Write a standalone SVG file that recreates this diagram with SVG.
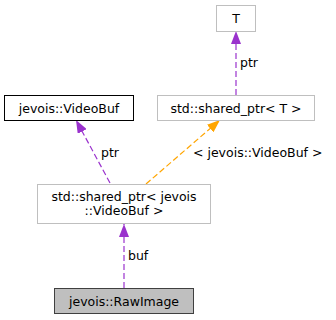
<svg xmlns="http://www.w3.org/2000/svg" width="336" height="320" viewBox="0 0 336 320">
  <style>
    text { font-family: "DejaVu Sans", sans-serif; font-size: 12.5px; fill: #000; }
    .box { fill: #fff; stroke: #bfbfbf; stroke-width: 1; }
    .edge { fill: none; stroke-width: 1.2; stroke-dasharray: 6,3; }
    .purple { stroke: #9a32cd; }
    .orange { stroke: #ffa500; }
  </style>
  <defs>
    <marker id="headPurple" viewBox="0 0 13 10" refX="13" refY="5" markerWidth="13" markerHeight="10" markerUnits="userSpaceOnUse" orient="auto">
      <path d="M0,0 L13,5 L0,10 Z" fill="#9a32cd"/>
    </marker>
    <marker id="headOrange" viewBox="0 0 13 10" refX="13" refY="5" markerWidth="13" markerHeight="10" markerUnits="userSpaceOnUse" orient="auto">
      <path d="M0,0 L13,5 L0,10 Z" fill="#ffa500"/>
    </marker>
  </defs>

  <g id="edges">
    <g id="edge-ptr-T">
      <path class="edge purple" d="M236,95 L236,31" marker-end="url(#headPurple)"/>
      <text x="240" y="67">ptr</text>
    </g>
    <g id="edge-ptr-VideoBuf">
      <path class="edge purple" d="M110,183 L76,120" marker-end="url(#headPurple)"/>
      <text x="101" y="157">ptr</text>
    </g>
    <g id="edge-template">
      <path class="edge orange" d="M146,184 L220,120" marker-end="url(#headOrange)"/>
      <text x="193" y="157">&lt; jevois::VideoBuf &gt;</text>
    </g>
    <g id="edge-buf">
      <path class="edge purple" d="M124,288 L124,224" marker-end="url(#headPurple)"/>
      <text x="128" y="260">buf</text>
    </g>
  </g>

  <g id="node-T">
    <rect class="box" x="216.5" y="5.5" width="39" height="26"/>
    <text x="236" y="23" text-anchor="middle">T</text>
  </g>
  <g id="node-VideoBuf">
    <rect x="4.5" y="95.5" width="129" height="25" fill="#fff" stroke="#000"/>
    <text x="69" y="112.5" text-anchor="middle">jevois::VideoBuf</text>
  </g>
  <g id="node-shared-ptr-T">
    <rect class="box" x="157.5" y="95.5" width="157" height="25"/>
    <text x="236" y="112.5" text-anchor="middle">std::shared_ptr&lt; T &gt;</text>
  </g>
  <g id="node-shared-ptr-VideoBuf">
    <rect class="box" x="37.5" y="184.5" width="173" height="39"/>
    <text x="124" y="201" text-anchor="middle">std::shared_ptr&lt; jevois</text>
    <text x="124" y="215" text-anchor="middle">::VideoBuf &gt;</text>
  </g>
  <g id="node-RawImage">
    <rect x="54.5" y="288.5" width="139" height="25" fill="#bfbfbf" stroke="#404040"/>
    <text x="124" y="305.5" text-anchor="middle">jevois::RawImage</text>
  </g>
</svg>
